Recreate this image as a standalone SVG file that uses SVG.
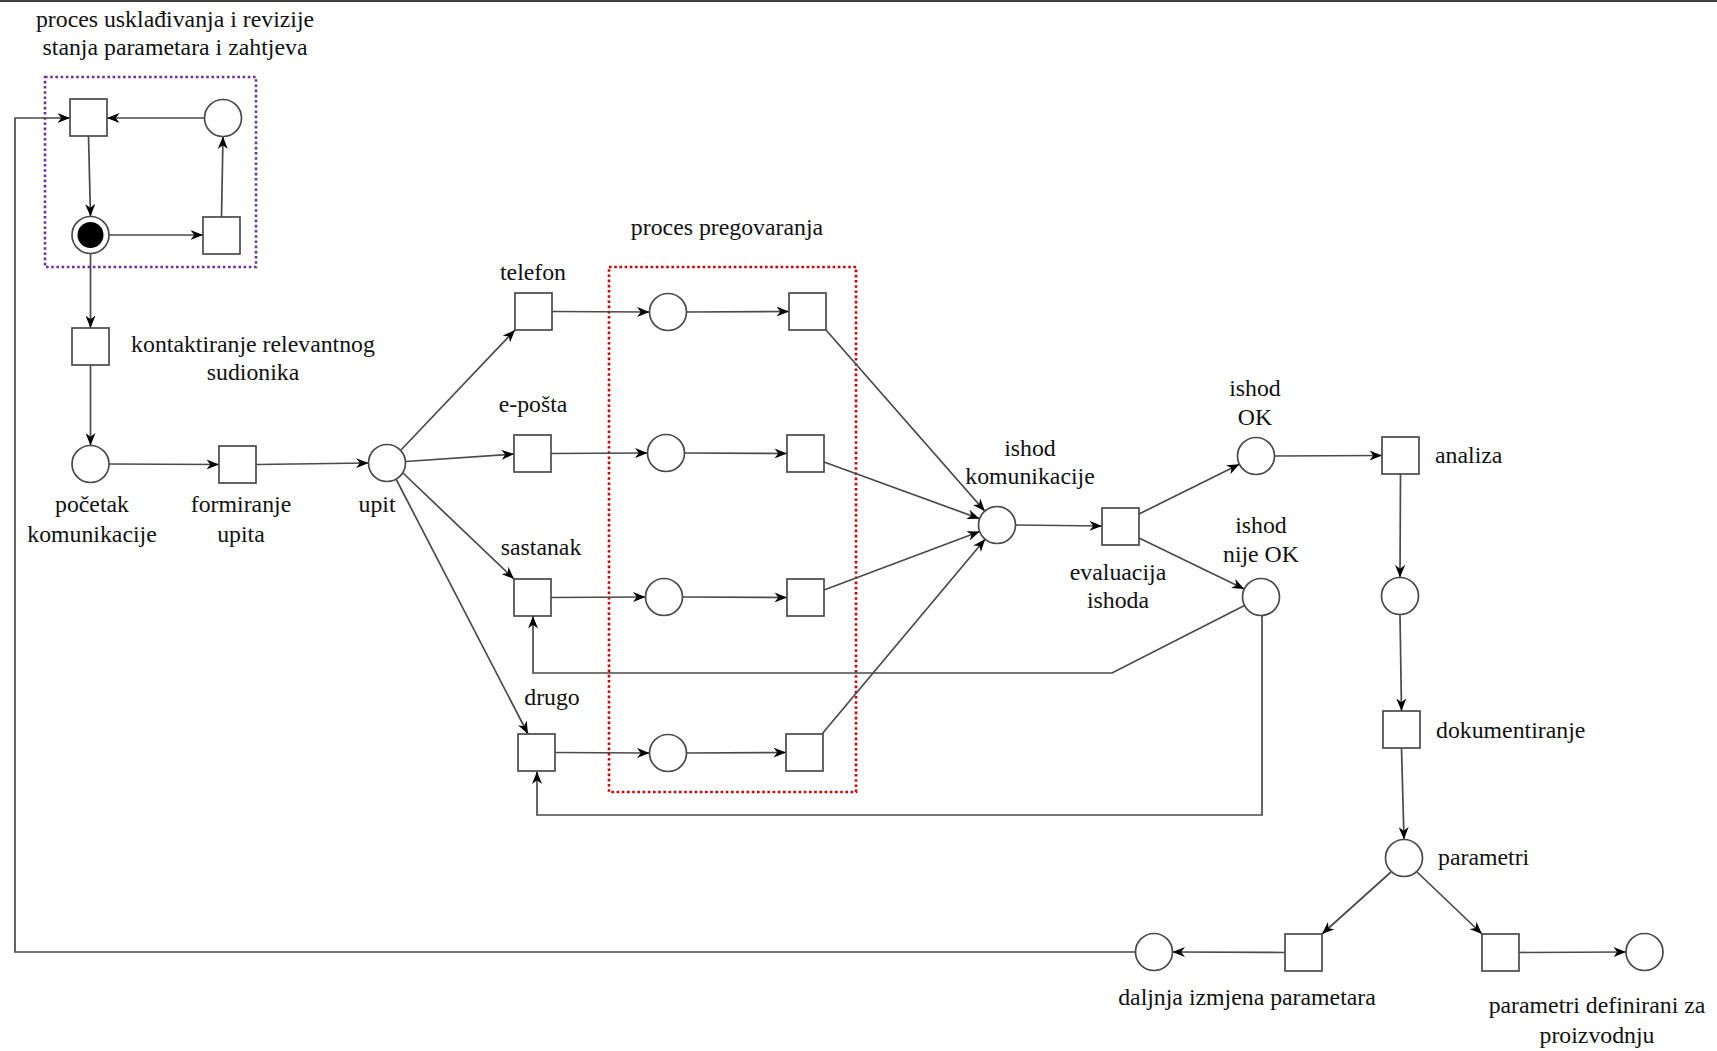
<svg xmlns="http://www.w3.org/2000/svg" width="1717" height="1051" viewBox="0 0 1717 1051">
<style>
.t{fill:#fff;stroke:#4a4a4a;stroke-width:1.7}
.p{fill:#fff;stroke:#4a4a4a;stroke-width:1.7}
.c{fill:none;stroke:#4a4a4a;stroke-width:1.7;marker-end:url(#arr)}
text{font-family:"Liberation Serif","Times New Roman",serif;font-size:23.8px;fill:#111}
.m{text-anchor:middle}
.grp{fill:none;stroke-width:2.6;stroke-dasharray:2.6 2.6}
</style>
<defs>
<marker id="arr" viewBox="0 0 10 8" refX="10" refY="4" markerWidth="12.5" markerHeight="10" markerUnits="userSpaceOnUse" orient="auto">
<path d="M0,0 L10,4 L0,8 L3,4 Z" fill="#000"/>
</marker>
</defs>
<rect width="1717" height="1051" fill="#fff"/>
<line x1="0" y1="1" x2="1717" y2="1" stroke="#000" stroke-width="1.6"/>

<g id="group-uskladivanje">
<rect class="grp" x="45" y="77" width="211" height="190" stroke="#7030a0"/>
<text class="m" x="175" y="27">proces usklađivanja i revizije</text>
<text class="m" x="175" y="55">stanja parametara i zahtjeva</text>
</g>
<g id="group-pregovaranje">
<rect class="grp" x="609" y="267" width="247" height="525" stroke="#d00000"/>
<text class="m" x="727" y="235">proces pregovaranja</text>
</g>

<g id="connectors">
<path class="c" d="M204.5,118 L107,118"/>
<path class="c" d="M88.5,136 L90.5,216.5"/>
<path class="c" d="M109,235 L203,235"/>
<path class="c" d="M221.5,217 L223,136.5"/>
<path class="c" d="M90.5,253.5 L90.5,328"/>
<path class="c" d="M90.5,365 L90.5,445.5"/>
<path class="c" d="M109,464 L219,464.5"/>
<path class="c" d="M256,464.5 L368.5,463"/>
<path class="c" d="M401,450 L515,330"/>
<path class="c" d="M405.5,461.5 L514,454"/>
<path class="c" d="M403,473 L514,579"/>
<path class="c" d="M396,479 L528,734"/>
<path class="c" d="M552,311.5 L649.5,312"/>
<path class="c" d="M686.5,312 L789,311.5"/>
<path class="c" d="M551,453.5 L647.5,453"/>
<path class="c" d="M684.5,453 L787,453.5"/>
<path class="c" d="M551,597.5 L645.5,597"/>
<path class="c" d="M682.5,597 L787,597.5"/>
<path class="c" d="M555,752.5 L649.5,753"/>
<path class="c" d="M686.5,753 L786,752.5"/>
<path class="c" d="M826,330 L984.8,511.1"/>
<path class="c" d="M824,462 L979.6,518.7"/>
<path class="c" d="M824,590 L979.7,531.5"/>
<path class="c" d="M822,734 L985.1,539.2"/>
<path class="c" d="M1015.5,525 L1102,526"/>
<path class="c" d="M1139,514 L1239.4,464.2"/>
<path class="c" d="M1139,538 L1244.3,589"/>
<path class="c" d="M1274.5,456 L1382,455.5"/>
<path class="c" d="M1400.5,474 L1400,577.5"/>
<path class="c" d="M1400,614.5 L1401.5,711"/>
<path class="c" d="M1401.5,748 L1404,839.5"/>
<path class="c" d="M1391,872 L1322,934"/>
<path class="c" d="M1417,872 L1482,934"/>
<path class="c" d="M1285,952.5 L1172.5,952"/>
<path class="c" d="M1519,952.5 L1626,952"/>
<path class="c" d="M1135.5,952 L15,952 L15,118 L70,118"/>
<path class="c" d="M1244.5,605.4 L1112,673 L533,673 L533,616"/>
<path class="c" d="M1262,615.5 L1262,815 L537,815 L537,771.5"/>
</g>

<g id="t-uskladivanje-1"><rect class="t" x="70" y="99" width="37" height="37"/></g>
<g id="p-uskladivanje-1"><circle class="p" cx="223" cy="118" r="18.5"/></g>
<g id="p-uskladivanje-token"><circle class="p" cx="90.5" cy="235" r="18.5"/><circle cx="90.5" cy="235" r="13" fill="#000"/></g>
<g id="t-uskladivanje-2"><rect class="t" x="203" y="217" width="37" height="37"/></g>

<g id="t-kontaktiranje"><rect class="t" x="72" y="328" width="37" height="37"/>
<text class="m" x="253" y="352">kontaktiranje relevantnog</text>
<text class="m" x="253" y="380">sudionika</text></g>
<g id="p-pocetak"><circle class="p" cx="90.5" cy="464" r="18.5"/>
<text class="m" x="92" y="512">početak</text>
<text class="m" x="92" y="542">komunikacije</text></g>
<g id="t-formiranje"><rect class="t" x="219" y="446" width="37" height="37"/>
<text class="m" x="241" y="512">formiranje</text>
<text class="m" x="241" y="542">upita</text></g>
<g id="p-upit"><circle class="p" cx="387" cy="463" r="18.5"/>
<text class="m" x="377" y="512">upit</text></g>

<g id="t-telefon"><rect class="t" x="515" y="293" width="37" height="37"/>
<text class="m" x="533" y="280">telefon</text></g>
<g id="p-telefon"><circle class="p" cx="668" cy="312" r="18.5"/></g>
<g id="t-telefon-2"><rect class="t" x="789" y="293" width="37" height="37"/></g>

<g id="t-eposta"><rect class="t" x="514" y="435" width="37" height="37"/>
<text class="m" x="533" y="412">e-pošta</text></g>
<g id="p-eposta"><circle class="p" cx="666" cy="453" r="18.5"/></g>
<g id="t-eposta-2"><rect class="t" x="787" y="435" width="37" height="37"/></g>

<g id="t-sastanak"><rect class="t" x="514" y="579" width="37" height="37"/>
<text class="m" x="541" y="555">sastanak</text></g>
<g id="p-sastanak"><circle class="p" cx="664" cy="597" r="18.5"/></g>
<g id="t-sastanak-2"><rect class="t" x="787" y="579" width="37" height="37"/></g>

<g id="t-drugo"><rect class="t" x="518" y="734" width="37" height="37"/>
<text class="m" x="552" y="705">drugo</text></g>
<g id="p-drugo"><circle class="p" cx="668" cy="753" r="18.5"/></g>
<g id="t-drugo-2"><rect class="t" x="786" y="734" width="37" height="37"/></g>

<g id="p-ishod-komunikacije"><circle class="p" cx="997" cy="525" r="18.5"/>
<text class="m" x="1030" y="456">ishod</text>
<text class="m" x="1030" y="484">komunikacije</text></g>
<g id="t-evaluacija"><rect class="t" x="1102" y="508" width="37" height="37"/>
<text class="m" x="1118" y="580">evaluacija</text>
<text class="m" x="1118" y="608">ishoda</text></g>
<g id="p-ishod-ok"><circle class="p" cx="1256" cy="456" r="18.5"/>
<text class="m" x="1255" y="396">ishod</text>
<text class="m" x="1255" y="425">OK</text></g>
<g id="p-ishod-nije-ok"><circle class="p" cx="1261" cy="597" r="18.5"/>
<text class="m" x="1261" y="533">ishod</text>
<text class="m" x="1261" y="562">nije OK</text></g>

<g id="t-analiza"><rect class="t" x="1382" y="437" width="37" height="37"/>
<text x="1435" y="463">analiza</text></g>
<g id="p-analiza"><circle class="p" cx="1400" cy="596" r="18.5"/></g>
<g id="t-dokumentiranje"><rect class="t" x="1383" y="711" width="37" height="37"/>
<text x="1436" y="738">dokumentiranje</text></g>
<g id="p-parametri"><circle class="p" cx="1404" cy="858" r="18.5"/>
<text x="1438" y="865">parametri</text></g>

<g id="t-izmjena"><rect class="t" x="1285" y="934" width="37" height="37"/></g>
<g id="p-izmjena"><circle class="p" cx="1154" cy="952" r="18.5"/>
<text class="m" x="1247" y="1005">daljnja izmjena parametara</text></g>
<g id="t-definirani"><rect class="t" x="1482" y="934" width="37" height="37"/></g>
<g id="p-definirani"><circle class="p" cx="1644.5" cy="952" r="18.5"/>
<text class="m" x="1597" y="1013">parametri definirani za</text>
<text class="m" x="1597" y="1043">proizvodnju</text></g>
</svg>
